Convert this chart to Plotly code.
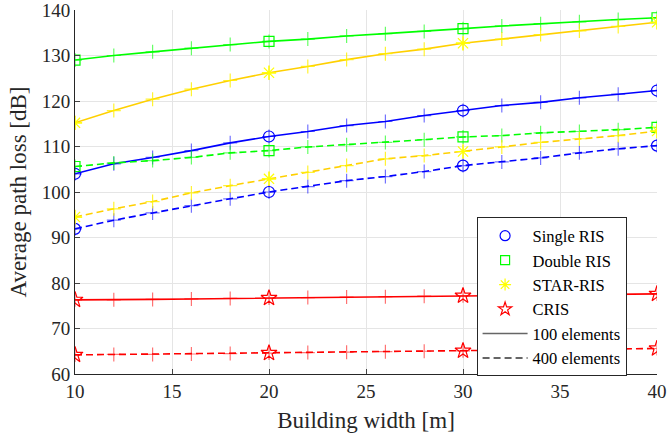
import plotly.graph_objects as go

width = [10, 12, 14, 16, 18, 20, 22, 24, 26, 28, 30, 32, 34, 36, 38, 40]

single_100 = [104.0, 106.2, 107.6, 109.1, 110.8, 112.2, 113.3, 114.6, 115.5, 116.8, 117.9, 119.0, 119.7, 120.7, 121.5, 122.3]
double_100 = [129.0, 130.0, 130.8, 131.6, 132.4, 133.1, 133.6, 134.3, 134.8, 135.3, 135.9, 136.5, 137.0, 137.4, 137.9, 138.3]
star_100 = [115.2, 117.9, 120.4, 122.6, 124.5, 126.2, 127.6, 129.1, 130.4, 131.4, 132.7, 133.6, 134.6, 135.4, 136.4, 137.3]
cris_100 = [76.3, 76.3, 76.4, 76.5, 76.6, 76.7, 76.8, 76.9, 77.0, 77.1, 77.2, 77.3, 77.4, 77.4, 77.5, 77.6]

single_400 = [91.9, 93.8, 95.4, 97.0, 98.5, 100.0, 101.2, 102.5, 103.4, 104.5, 105.8, 106.6, 107.5, 108.6, 109.5, 110.2]
double_400 = [105.6, 106.4, 106.9, 107.6, 108.6, 109.1, 109.9, 110.4, 110.9, 111.5, 112.1, 112.4, 113.0, 113.3, 113.7, 114.2]
star_400 = [94.5, 96.3, 97.9, 99.8, 101.4, 102.9, 104.3, 105.8, 107.3, 108.0, 108.9, 109.9, 110.9, 111.7, 112.4, 113.4]
cris_400 = [64.2, 64.3, 64.3, 64.4, 64.5, 64.6, 64.7, 64.8, 64.9, 65.0, 65.1, 65.2, 65.3, 65.4, 65.5, 65.6]

main_idx = [0, 5, 10, 15]
x_ticks = [10, 15, 20, 25, 30, 35, 40]
y_ticks = [60, 70, 80, 90, 100, 110, 120, 130, 140]
legend_names = ["Single RIS", "Double RIS", "STAR-RIS", "CRIS", "100 elements", "400 elements"]

schemes = [
    (single_100, single_400, "#0000FF", "#0000FF", "rgba(0,0,255,0.55)", "circle-open", 11, 10),
    (double_100, double_400, "#00FF00", "#00FF00", "rgba(0,255,0,0.6)", "square-open", 10, 9),
    (star_100, star_400, "#FFD000", "#FFFF00", "rgba(255,240,0,0.8)", "asterisk-open", 12, 10),
    (cris_100, cris_400, "#FF0000", "#FF0000", "rgba(255,0,0,0.55)", "star-open", 12, 10),
]


def serif(t):
    return '<span style="font-family:Liberation Serif">' + t + '</span>'


fig = go.Figure()

for v100, v400, lc, mc, cc, sym, ms, lms in schemes:
    for vals, dash in [(v100, "solid"), (v400, "7px,4px")]:
        fig.add_trace(go.Scatter(
            x=width, y=vals, mode="lines+markers",
            line=dict(color=lc, width=1.6, dash=dash),
            marker=dict(symbol="cross-thin-open", size=10, color=cc,
                        line=dict(color=cc, width=1.2)),
            showlegend=False, hoverinfo="skip"))
        fig.add_trace(go.Scatter(
            x=[width[i] for i in main_idx], y=[vals[i] for i in main_idx],
            mode="markers",
            marker=dict(symbol=sym, size=ms, color=mc, line=dict(color=mc, width=1.2)),
            showlegend=False, hoverinfo="skip"))

for (v100, v400, lc, mc, cc, sym, ms, lms), name in zip(schemes, legend_names[:4]):
    fig.add_trace(go.Scatter(
        x=[None], y=[None], mode="markers", name=serif(name),
        marker=dict(symbol=sym, size=lms, color=mc, line=dict(color=mc, width=1.2))))

fig.add_trace(go.Scatter(x=[None], y=[None], mode="lines", name=serif(legend_names[4]),
                         line=dict(color="#666666", width=1.6)))
fig.add_trace(go.Scatter(x=[None], y=[None], mode="lines", name=serif(legend_names[5]),
                         line=dict(color="#333333", width=1.6, dash="7px,4px")))

fig.update_layout(
    width=668, height=438,
    margin=dict(l=75, r=11, t=10, b=64),
    paper_bgcolor="white", plot_bgcolor="white",
    font=dict(size=18, color="#262626"),
    legend=dict(x=0.69, y=0.43, xanchor="left", yanchor="top",
                bgcolor="white", bordercolor="#262626", borderwidth=1,
                font=dict(family="Liberation Serif", size=16.5, color="#000000"),
                itemwidth=45, tracegroupgap=0),
    xaxis=dict(range=[10, 40], tickvals=x_ticks, ticks="inside", ticklen=5,
               showline=True, linecolor="#262626", linewidth=1,
               showgrid=True, gridcolor="#e5e5e5", gridwidth=1, zeroline=False,
               automargin=False, ticklabeloverflow="allow",
               title=dict(text="Building width [m]", font=dict(family="serif", size=23), standoff=11),
               tickfont=dict(family="Times New Roman", size=19)),
    yaxis=dict(range=[60, 140], tickvals=y_ticks, ticks="inside", ticklen=5,
               showline=True, linecolor="#262626", linewidth=1,
               showgrid=True, gridcolor="#e5e5e5", gridwidth=1, zeroline=False,
               automargin=False, ticklabeloverflow="allow",
               title=dict(text="Average path loss [dB]", font=dict(family="Liberation Serif", size=23), standoff=8),
               tickfont=dict(family="Liberation Serif", size=19)),
)

fig.write_html("out.html", config={"displayModeBar": False},
               post_script="document.body.style.margin='0';")
